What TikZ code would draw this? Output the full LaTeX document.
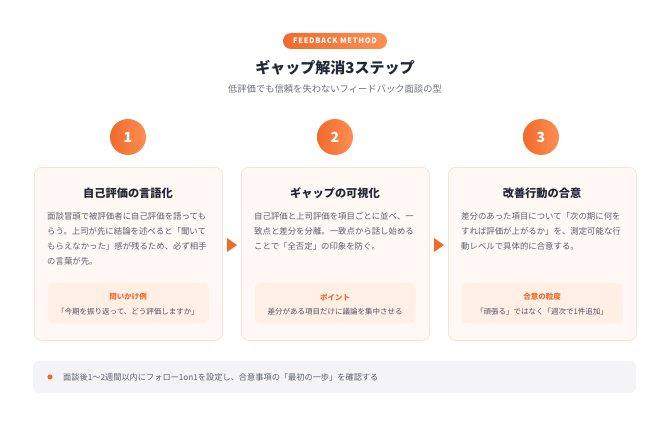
\documentclass[tikz,border=0pt]{standalone}
\usepackage{fontspec}
\setmainfont{Noto Sans CJK JP}
\definecolor{orA}{HTML}{F06A2C}
\definecolor{orB}{HTML}{FF8E52}
\definecolor{orT}{HTML}{F26A2A}
\definecolor{cardfill}{HTML}{FFF8F4}
\definecolor{cardline}{HTML}{F8E2D6}
\definecolor{innerfill}{HTML}{FFEFE5}
\definecolor{titlecol}{HTML}{232635}
\definecolor{bodycol}{HTML}{5B5F6C}
\definecolor{subcol}{HTML}{6E717C}
\definecolor{barfill}{HTML}{F4F4F6}
\tikzset{
  pill/.style={rounded corners=8pt, minimum width=104pt, minimum height=16pt, inner sep=0pt,
    left color=orA, right color=orB, text=white, font=\bfseries\fontsize{7.5}{8}\selectfont\addfontfeatures{LetterSpace=9}},
  stepnum/.style={circle, minimum size=36pt, inner sep=0pt, shading=axis, shading angle=135,
    left color=orA, right color=orB, text=white, font=\bfseries\fontsize{14}{16}\selectfont},
  card/.style={draw=cardline, line width=0.8pt, fill=cardfill, rounded corners=7pt,
    minimum width=188pt, minimum height=173pt, anchor=north west, inner sep=0pt},
  cardtitle/.style={text=titlecol, font=\bfseries\fontsize{11.2}{14}\selectfont, inner sep=0pt},
  body/.style={text=bodycol, font=\fontsize{8.4}{14.8}\selectfont, align=left, anchor=north west, inner sep=0pt},
  innerbox/.style={fill=innerfill, rounded corners=5pt, minimum width=161pt, minimum height=40pt, inner sep=0pt},
  innerlabel/.style={text=orT, font=\bfseries\fontsize{7.5}{9}\selectfont, inner sep=0pt},
  innertext/.style={text=bodycol!90!black, font=\fontsize{7.5}{9}\selectfont, inner sep=0pt},
  tri/.style={fill=orT},
}
\begin{document}
\begin{tikzpicture}[x=1pt,y=-1pt]
\useasboundingbox (0,0) rectangle (670,422);
\fill[white] (0,0) rectangle (670,422);

\node[pill] (tag) at (335,41) {FEEDBACK METHOD};
\node[text=titlecol, font=\bfseries\fontsize{15}{18}\selectfont, inner sep=0pt] (title) at (335,68) {ギャップ解消3ステップ};
\node[text=subcol, font=\fontsize{9.3}{11}\selectfont, inner sep=0pt] (sub) at (335,89) {低評価でも信頼を失わないフィードバック面談の型};

% step circles
\node[stepnum] (n1) at (128,137) {1};
\node[stepnum] (n2) at (335,137) {2};
\node[stepnum] (n3) at (541,137) {3};

% cards
\node[card] (c1) at (34,167) {};
\node[card] (c2) at (241,167) {};
\node[card] (c3) at (448,167) {};

\node[cardtitle] (t1) at (128,193) {自己評価の言語化};
\node[cardtitle] (t2) at (335,193) {ギャップの可視化};
\node[cardtitle] (t3) at (542,193) {改善行動の合意};

\node[body] (b1) at (47,212.5) {面談冒頭で被評価者に自己評価を語っても\\らう。上司が先に結論を述べると「聞いて\\もらえなかった」感が残るため、必ず相手\\の言葉が先。};
\node[body] (b2) at (254,212.5) {自己評価と上司評価を項目ごとに並べ、一\\致点と差分を分離。一致点から話し始める\\ことで「全否定」の印象を防ぐ。};
\node[body] (b3) at (461,212.5) {差分のあった項目について「次の期に何を\\すれば評価が上がるか」を、測定可能な行\\動レベルで具体的に合意する。};

\node[innerbox] (i1) at (128,303) {};
\node[innerbox] (i2) at (335,303) {};
\node[innerbox] (i3) at (542,303) {};
\node[innerlabel] (l1) at (128,297) {問いかけ例};
\node[innerlabel] (l2) at (335,297) {ポイント};
\node[innerlabel] (l3) at (542,297) {合意の粒度};
\node[innertext] (s1) at (128,312) {「今期を振り返って、どう評価しますか」};
\node[innertext] (s2) at (335,312) {差分がある項目だけに議論を集中させる};
\node[innertext] (s3) at (542,312) {「頑張る」ではなく「週次で1件追加」};

% arrows between cards
\fill[tri] (227,238) -- (237,245) -- (227,252) -- cycle;
\fill[tri] (434,238) -- (444,245) -- (434,252) -- cycle;

% bottom bar
\node[fill=barfill, rounded corners=6pt, minimum width=603pt, minimum height=32pt, inner sep=0pt] (bar) at (334.5,377) {};
\fill[orT] (50,377) circle (2.6pt);
\node[text=bodycol, font=\fontsize{8.2}{10}\selectfont, anchor=west, inner sep=0pt] (note) at (63,377.5) {面談後1〜2週間以内にフォロー1on1を設定し、合意事項の「最初の一歩」を確認する};
\end{tikzpicture}
\end{document}
